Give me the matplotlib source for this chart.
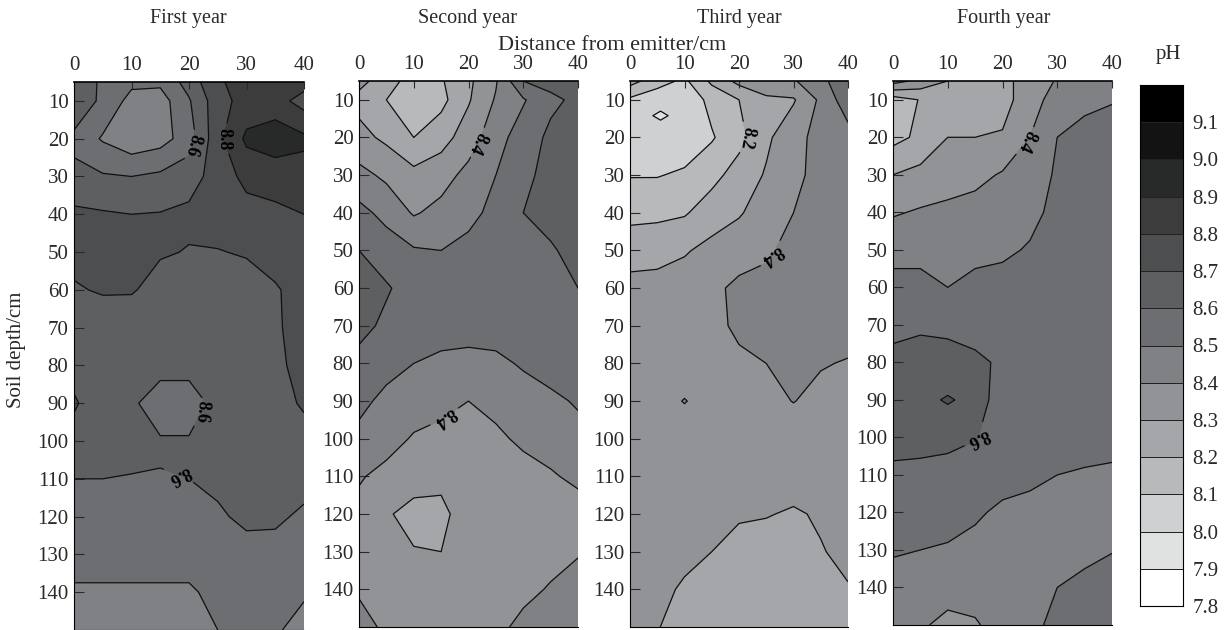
import matplotlib
matplotlib.use('Agg')
import matplotlib.pyplot as plt
from matplotlib.colors import ListedColormap, BoundaryNorm

plt.rcParams['font.family'] = ['Liberation Serif', 'DejaVu Serif']
plt.rcParams['font.size'] = 15
TEXT = '#2b2829'

W, H = 1226, 630

# ph levels and the grey of each band, lightest at the bottom
levels = [7.8, 7.9, 8.0, 8.1, 8.2, 8.3, 8.4, 8.5, 8.6, 8.7, 8.8, 8.9, 9.0, 9.1, 9.2]
greys = ['#ffffff', '#e0e1e1', '#cfd0d2', '#b8b9bb', '#a5a6a9', '#929396', '#808184',
         '#6d6e71', '#5e5f61', '#4d4e50', '#3c3c3d', '#282a29', '#131313', '#000000']

distance = [0, 5, 10, 15, 20, 25, 30, 35, 40]
depth = [5, 10, 20, 30, 40, 50, 60, 70, 80, 90, 100, 110, 120, 130, 140, 150]

first_year = [
    [8.68, 8.58, 8.52, 8.52, 8.64, 8.79, 8.83, 8.85, 8.84],
    [8.70, 8.57, 8.47, 8.455, 8.59, 8.76, 8.84, 8.84, 8.76],
    [8.57, 8.49, 8.43, 8.46, 8.55, 8.77, 8.92, 8.96, 8.92],
    [8.63, 8.61, 8.60, 8.62, 8.66, 8.74, 8.83, 8.84, 8.86],
    [8.72, 8.71, 8.70, 8.705, 8.72, 8.75, 8.76, 8.78, 8.80],
    [8.73, 8.74, 8.74, 8.71, 8.695, 8.695, 8.71, 8.74, 8.76],
    [8.69, 8.71, 8.71, 8.66, 8.64, 8.64, 8.65, 8.69, 8.74],
    [8.66, 8.64, 8.63, 8.63, 8.63, 8.63, 8.64, 8.69, 8.73],
    [8.67, 8.64, 8.62, 8.62, 8.62, 8.62, 8.63, 8.68, 8.73],
    [8.71, 8.65, 8.61, 8.57, 8.57, 8.62, 8.64, 8.67, 8.71],
    [8.67, 8.64, 8.62, 8.605, 8.605, 8.63, 8.65, 8.66, 8.67],
    [8.60, 8.60, 8.597, 8.598, 8.60, 8.63, 8.66, 8.66, 8.64],
    [8.56, 8.56, 8.56, 8.56, 8.56, 8.58, 8.63, 8.62, 8.58],
    [8.53, 8.53, 8.53, 8.53, 8.53, 8.54, 8.55, 8.56, 8.55],
    [8.49, 8.49, 8.49, 8.49, 8.49, 8.52, 8.54, 8.54, 8.51],
    [8.46, 8.46, 8.46, 8.47, 8.47, 8.50, 8.53, 8.51, 8.47],
]

second_year = [
    [8.33, 8.25, 8.15, 8.19, 8.28, 8.39, 8.60, 8.63, 8.65],
    [8.27, 8.20, 8.13, 8.17, 8.29, 8.41, 8.49, 8.58, 8.62],
    [8.33, 8.28, 8.20, 8.26, 8.35, 8.46, 8.55, 8.62, 8.65],
    [8.43, 8.38, 8.33, 8.36, 8.43, 8.50, 8.57, 8.64, 8.65],
    [8.53, 8.47, 8.39, 8.43, 8.47, 8.53, 8.60, 8.63, 8.66],
    [8.60, 8.55, 8.51, 8.50, 8.53, 8.55, 8.57, 8.59, 8.63],
    [8.67, 8.61, 8.56, 8.55, 8.55, 8.55, 8.56, 8.58, 8.60],
    [8.63, 8.58, 8.55, 8.54, 8.54, 8.54, 8.55, 8.56, 8.57],
    [8.57, 8.54, 8.50, 8.48, 8.47, 8.48, 8.51, 8.54, 8.56],
    [8.53, 8.47, 8.45, 8.43, 8.40, 8.43, 8.46, 8.48, 8.51],
    [8.47, 8.44, 8.39, 8.37, 8.36, 8.38, 8.42, 8.44, 8.47],
    [8.41, 8.37, 8.34, 8.33, 8.33, 8.34, 8.36, 8.39, 8.42],
    [8.37, 8.31, 8.27, 8.27, 8.36, 8.34, 8.34, 8.35, 8.36],
    [8.34, 8.32, 8.305, 8.30, 8.34, 8.34, 8.34, 8.36, 8.39],
    [8.38, 8.34, 8.32, 8.32, 8.33, 8.35, 8.37, 8.41, 8.45],
    [8.46, 8.37, 8.34, 8.33, 8.34, 8.37, 8.43, 8.46, 8.48],
]

third_year = [
    [8.24, 8.14, 8.08, 8.22, 8.33, 8.37, 8.39, 8.47, 8.58],
    [8.08, 8.04, 8.03, 8.13, 8.20, 8.28, 8.29, 8.42, 8.56],
    [8.02, 8.01, 8.04, 8.09, 8.17, 8.28, 8.37, 8.43, 8.46],
    [8.095, 8.095, 8.115, 8.17, 8.24, 8.31, 8.37, 8.44, 8.45],
    [8.17, 8.175, 8.19, 8.25, 8.29, 8.35, 8.40, 8.43, 8.44],
    [8.26, 8.27, 8.29, 8.33, 8.36, 8.39, 8.42, 8.43, 8.43],
    [8.33, 8.33, 8.35, 8.38, 8.42, 8.42, 8.43, 8.43, 8.43],
    [8.35, 8.35, 8.36, 8.385, 8.41, 8.42, 8.43, 8.43, 8.43],
    [8.37, 8.37, 8.37, 8.38, 8.39, 8.40, 8.42, 8.405, 8.395],
    [8.37, 8.37, 8.37, 8.37, 8.37, 8.38, 8.402, 8.38, 8.38],
    [8.36, 8.36, 8.36, 8.36, 8.36, 8.36, 8.36, 8.36, 8.36],
    [8.35, 8.35, 8.34, 8.34, 8.34, 8.34, 8.34, 8.34, 8.34],
    [8.33, 8.33, 8.32, 8.32, 8.31, 8.305, 8.29, 8.31, 8.32],
    [8.33, 8.32, 8.31, 8.30, 8.27, 8.26, 8.26, 8.295, 8.32],
    [8.32, 8.31, 8.295, 8.27, 8.25, 8.24, 8.25, 8.27, 8.295],
    [8.31, 8.305, 8.26, 8.25, 8.24, 8.24, 8.24, 8.25, 8.27],
]

fourth_year = [
    [8.44, 8.37, 8.30, 8.27, 8.28, 8.33, 8.41, 8.44, 8.48],
    [8.15, 8.205, 8.26, 8.25, 8.26, 8.36, 8.44, 8.47, 8.49],
    [8.17, 8.22, 8.30, 8.30, 8.31, 8.40, 8.50, 8.54, 8.57],
    [8.30, 8.33, 8.36, 8.37, 8.41, 8.46, 8.51, 8.56, 8.59],
    [8.39, 8.41, 8.42, 8.44, 8.46, 8.47, 8.53, 8.58, 8.60],
    [8.47, 8.47, 8.47, 8.47, 8.48, 8.51, 8.55, 8.58, 8.60],
    [8.53, 8.53, 8.50, 8.53, 8.54, 8.55, 8.56, 8.57, 8.58],
    [8.58, 8.585, 8.57, 8.56, 8.55, 8.55, 8.56, 8.56, 8.56],
    [8.62, 8.64, 8.65, 8.62, 8.585, 8.56, 8.55, 8.55, 8.55],
    [8.66, 8.67, 8.68, 8.63, 8.57, 8.55, 8.55, 8.55, 8.55],
    [8.65, 8.65, 8.63, 8.605, 8.56, 8.54, 8.54, 8.54, 8.54],
    [8.57, 8.56, 8.56, 8.55, 8.54, 8.53, 8.50, 8.49, 8.48],
    [8.54, 8.54, 8.54, 8.515, 8.48, 8.46, 8.45, 8.45, 8.45],
    [8.51, 8.50, 8.49, 8.47, 8.45, 8.43, 8.44, 8.47, 8.495],
    [8.46, 8.44, 8.43, 8.42, 8.42, 8.44, 8.50, 8.53, 8.55],
    [8.43, 8.41, 8.38, 8.395, 8.42, 8.47, 8.53, 8.56, 8.54],
]

titles = ['First year', 'Second year', 'Third year', 'Fourth year']
title_x = [188, 468, 739, 1004]
x_ticks = [0, 10, 20, 30, 40]
y_ticks = [10, 20, 30, 40, 50, 60, 70, 80, 90, 100, 110, 120, 130, 140]
grids = [first_year, second_year, third_year, fourth_year]

# axes boxes in pixels: left, right, top, bottom
boxes = [(74, 304, 82, 630), (359, 578, 81, 627), (630, 848, 81, 627), (893, 1112, 81, 625)]

# contour labels: position, rotation
labels = [
    [(20.3, 21.5, 255), (25.8, 20, 270), (22, 92, 265), (18.5, 108, 207)],
    [(21.3, 21, 245), (15.5, 94, 215)],
    [(21.7, 20, 260), (25, 50, 215)],
    [(24.3, 21, 245), (16.5, 101, 205)],
]

# tiny closed spots too small for the grid: panel, x, y, half widths, inside, outside
spots = [
    (2, 5.6, 14.2, 2.8, 2.4, 7.98, 8.02),
    (2, 10, 90, 1.0, 1.4, 8.41, 8.39),
    (3, 10, 90, 2.6, 2.4, 8.71, 8.69),
]

cmap = ListedColormap(greys)
norm = BoundaryNorm(levels, cmap.N)


def px_axes(fig, left, right, top, bottom):
    return fig.add_axes([left / W, 1 - bottom / H, (right - left) / W, (bottom - top) / H])


fig = plt.figure(figsize=(W / 100, H / 100), dpi=100)

for i in range(4):
    ax = px_axes(fig, *boxes[i])
    ax.contourf(distance, depth, grids[i], levels=levels, cmap=cmap, norm=norm)
    cs = ax.contour(distance, depth, grids[i], levels=levels, colors='#111111', linewidths=0.9)

    ax.set_xlim(0, 40)
    ax.set_ylim(150, 5)

    places = [(l[0], l[1]) for l in labels[i]]
    texts = ax.clabel(cs, manual=places, fmt='%.1f', fontsize=13, colors='black')
    for t, l in zip(texts, labels[i]):
        t.set_rotation(l[2])
        t.set_fontweight('bold')

    for p, sx, sy, dx, dy, inner, outer in spots:
        if p != i:
            continue
        sxs = [sx - dx, sx, sx + dx]
        sys_ = [sy - dy, sy, sy + dy]
        sz = [[outer, outer, outer], [outer, inner, outer], [outer, outer, outer]]
        ax.contourf(sxs, sys_, sz, levels=levels, cmap=cmap, norm=norm)
        ax.contour(sxs, sys_, sz, levels=levels, colors='#111111', linewidths=0.9)

    ax.xaxis.tick_top()
    ax.set_xticks(x_ticks)
    ax.set_yticks(y_ticks)
    ax.tick_params(axis='x', direction='in', length=5, width=0.8, pad=5, labelsize=15, colors=TEXT)
    ax.tick_params(axis='y', direction='in', length=7, width=0.8, pad=4, labelsize=15, colors=TEXT)
    ax.spines['right'].set_visible(False)
    ax.spines['top'].set_linewidth(1.2)
    ax.spines['left'].set_linewidth(0.8)
    ax.spines['bottom'].set_linewidth(0.8)
    fig.text(title_x[i] / W, 1 - 18 / H, titles[i], ha='center', va='center', fontsize=14.5, color=TEXT)

fig.text(612 / W, 1 - 45 / H, 'Distance from emitter/cm', ha='center', va='center', fontsize=16, color=TEXT)
fig.text(17 / W, 1 - 350 / H, 'Soil depth/cm', ha='center', va='center', rotation=90, fontsize=15, color=TEXT)
fig.text(1168 / W, 1 - 55 / H, 'pH', ha='center', va='center', fontsize=15, color=TEXT)

# colour key
cax = px_axes(fig, 1140, 1183, 85, 606)
cax.pcolormesh([0, 1], levels, [[v] for v in levels[:-1]], cmap=cmap,
               norm=BoundaryNorm([l - 0.05 for l in levels], cmap.N), edgecolors='#222222', linewidth=0.5)
cax.set_xticks([])
cax.yaxis.tick_right()
cax.set_yticks(levels[:-1])
cax.set_yticklabels(['%.1f' % v for v in levels[:-1]])
cax.tick_params(axis='y', length=0, pad=7, labelsize=15, colors=TEXT)
for s in cax.spines.values():
    s.set_linewidth(0.8)

fig.savefig('out.png', dpi=100)
